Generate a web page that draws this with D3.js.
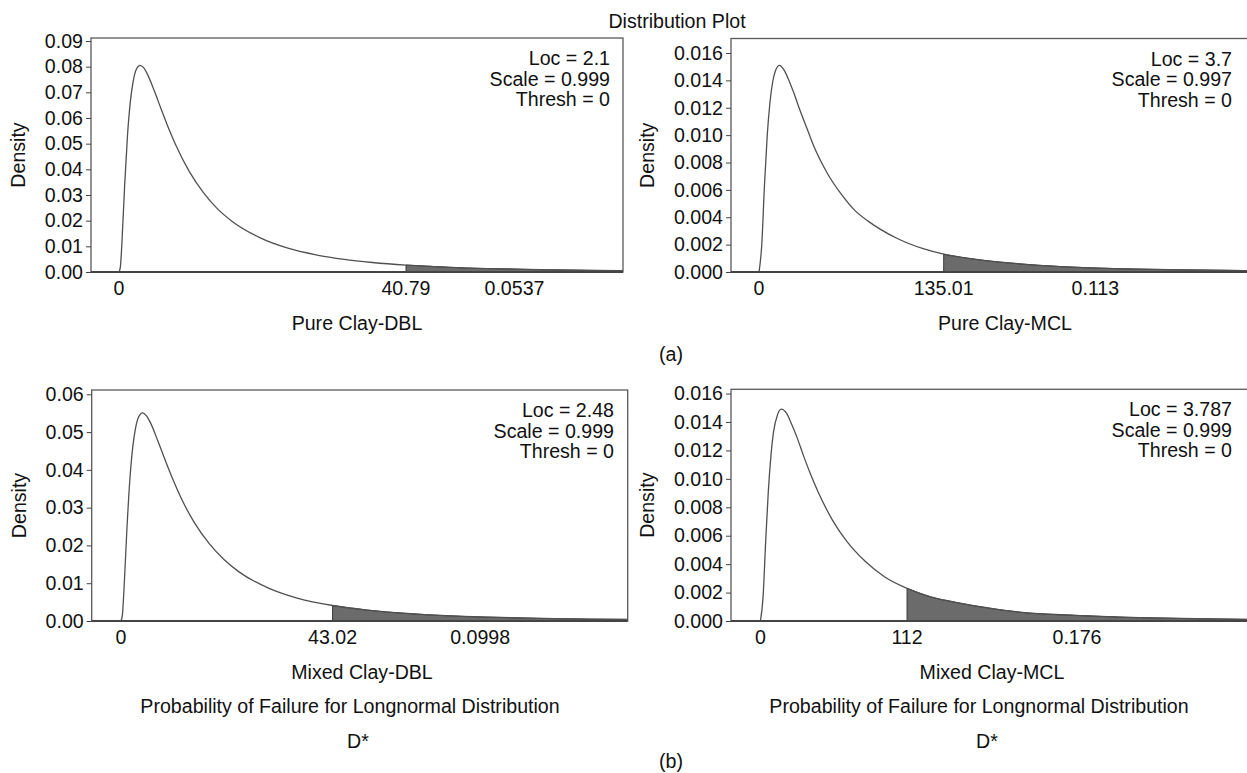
<!DOCTYPE html>
<html>
<head>
<meta charset="utf-8">
<script src="https://cdn.jsdelivr.net/npm/d3@7"></script>
<style>
  body { margin: 0; background: #fff; }
  text { font-family: "Liberation Sans", Arial, sans-serif; fill: #111; }
</style>
</head>
<body>
<svg id="chart" width="1247" height="773"></svg>
<script>
// ---- data ----
const panelNames = ["Pure Clay-DBL", "Pure Clay-MCL", "Mixed Clay-DBL", "Mixed Clay-MCL"];
const locLabels = ["2.1", "3.7", "2.48", "3.787"];
const scaleLabels = ["0.999", "0.997", "0.999", "0.999"];
const threshLabels = ["0", "0", "0", "0"];
const cutoffs = [40.79, 135.01, 43.02, 112];
const cutoffLabels = ["40.79", "135.01", "43.02", "112"];
const tailProbLabels = ["0.0537", "0.113", "0.0998", "0.176"];

// density curves (x, density)
const pureDblX = [0, 0.2, 0.4, 0.8, 1.2, 1.6, 2, 2.5, 3, 3.5, 4, 5, 6, 7, 8, 10, 12, 14, 16, 20, 24, 28, 32, 36, 40.79, 45, 50, 55, 60, 65, 72];
const pureDblDensity = [0, 0.0021, 0.0106, 0.0336, 0.0529, 0.0661, 0.0741, 0.0792, 0.0805, 0.0796, 0.0773, 0.0707, 0.0634, 0.0563, 0.0499, 0.0391, 0.0309, 0.0246, 0.0199, 0.0134, 0.0093, 0.0067, 0.0049, 0.0037, 0.0027, 0.0021, 0.0015, 0.0012, 0.0009, 0.0007, 0.0005];

const pureMclX = [0, 2, 4, 6, 8, 10, 12, 15, 18, 21, 25, 30, 35, 40, 50, 60, 70, 80, 100, 120, 135.01, 160, 190, 220, 260, 300, 358];
const pureMclDensity = [0, 0.0020, 0.0064, 0.0100, 0.0124, 0.0139, 0.0147, 0.0151, 0.0148, 0.0142, 0.0132, 0.0118, 0.0105, 0.0092, 0.0072, 0.0057, 0.0045, 0.0037, 0.0025, 0.0017, 0.0013, 0.0009, 0.0006, 0.0004, 0.00025, 0.00017, 0.0001];

const mixedDblX = [0, 0.3, 0.6, 1.2, 1.8, 2.4, 3, 3.6, 4.4, 5.2, 6, 7.5, 9, 10.5, 12, 15, 18, 21, 24, 30, 36, 43.02, 50, 58, 66, 75, 85, 95, 104];
const mixedDblDensity = [0, 0.0015, 0.0076, 0.0237, 0.037, 0.0459, 0.0512, 0.054, 0.0551, 0.0543, 0.0525, 0.0477, 0.0426, 0.0377, 0.0332, 0.0259, 0.0204, 0.0162, 0.013, 0.0087, 0.006, 0.0041, 0.0029, 0.002, 0.0014, 0.001, 0.0007, 0.0005, 0.0004];

const mixedMclX = [0, 2, 4, 6, 8, 10, 13, 16, 20, 24, 28, 33, 38, 44, 55, 66, 80, 95, 112, 130, 150, 175, 200, 240, 280, 320, 373];
const mixedMclDensity = [0, 0.0017, 0.0056, 0.0091, 0.0116, 0.0133, 0.0145, 0.0149, 0.0146, 0.0138, 0.0129, 0.0116, 0.0104, 0.0091, 0.0071, 0.0056, 0.0042, 0.0031, 0.0023, 0.0017, 0.0013, 0.0009, 0.0006, 0.0004, 0.00026, 0.00018, 0.00011];

// axis ranges and tick labels
const xDomains = [[-3.98, 71.63], [-20.5, 357.5], [-5.93, 103.0], [-22.5, 372.5]];
const yDomains = [[0, 0.09117], [0, 0.01706], [0, 0.06114], [0, 0.0163]];
const yTicksDbl = [0, 0.01, 0.02, 0.03, 0.04, 0.05, 0.06, 0.07, 0.08, 0.09];
const yTicksMcl = [0, 0.002, 0.004, 0.006, 0.008, 0.010, 0.012, 0.014, 0.016];
const yTicksMixedDbl = [0, 0.01, 0.02, 0.03, 0.04, 0.05, 0.06];

const curves = [
  { x: pureDblX, y: pureDblDensity },
  { x: pureMclX, y: pureMclDensity },
  { x: mixedDblX, y: mixedDblDensity },
  { x: mixedMclX, y: mixedMclDensity }
];
const yTicks = [yTicksDbl, yTicksMcl, yTicksMixedDbl, yTicksMcl];
const yFormats = [".2f", ".3f", ".2f", ".3f"];

// ---- layout ----
const layout = [
  { l: 91,   t: 38,    r: 623,   b: 272, densX: 18.5,  labelX: 357,  footX: 357, legendR: 610 },
  { l: 731,  t: 38.5,  r: 1248,  b: 272, densX: 647,   labelX: 1005, footX: 1005, legendR: 1232 },
  { l: 91.7, t: 390,   r: 627.7, b: 621, densX: 19,    labelX: 362,  footX: 350, legendR: 614 },
  { l: 731,  t: 389.3, r: 1248,  b: 621, densX: 647.5, labelX: 992,  footX: 979, legendR: 1232 }
];

const svg = d3.select("#chart");
const fs = 19.6;

svg.append("text")
  .attr("x", 677).attr("y", 28)
  .attr("text-anchor", "middle")
  .style("font-size", fs + "px")
  .text("Distribution Plot");

layout.forEach((p, i) => {
  const x = d3.scaleLinear().domain(xDomains[i]).range([p.l, p.r]);
  const y = d3.scaleLinear().domain(yDomains[i]).range([p.b, p.t]);
  const pts = curves[i].x.map((v, k) => ({ x: v, d: curves[i].y[k] }));
  const g = svg.append("g");

  svg.append("clipPath").attr("id", "clip" + i)
    .append("rect")
    .attr("x", p.l).attr("y", p.t)
    .attr("width", p.r - p.l).attr("height", p.b - p.t);

  // shaded upper tail
  const tail = pts.filter(d => d.x >= cutoffs[i]);
  const area = d3.area()
    .x(d => x(d.x)).y0(y(0)).y1(d => y(d.d))
    .curve(d3.curveMonotoneX);
  g.append("path")
    .attr("clip-path", "url(#clip" + i + ")")
    .attr("d", area(tail))
    .attr("fill", "#6b6b6b")
    .attr("stroke", "#3a3a3a")
    .attr("stroke-width", 1);

  // density curve
  const line = d3.line()
    .x(d => x(d.x)).y(d => y(d.d))
    .curve(d3.curveMonotoneX);
  g.append("path")
    .attr("clip-path", "url(#clip" + i + ")")
    .attr("d", line(pts))
    .attr("fill", "none")
    .attr("stroke", "#505050")
    .attr("stroke-width", 1.3);

  // frame
  g.append("rect")
    .attr("x", p.l).attr("y", p.t)
    .attr("width", p.r - p.l).attr("height", p.b - p.t)
    .attr("fill", "none")
    .attr("stroke", "#5a5a5a")
    .attr("stroke-width", 1.3);
  g.append("line")
    .attr("x1", p.l).attr("x2", p.r)
    .attr("y1", p.b).attr("y2", p.b)
    .attr("stroke", "#444")
    .attr("stroke-width", 2);

  // y axis
  const yAxis = g.append("g")
    .attr("transform", "translate(" + p.l + ",0)")
    .call(d3.axisLeft(y).tickValues(yTicks[i]).tickSize(5).tickPadding(3)
      .tickFormat(d3.format(yFormats[i])));
  yAxis.select(".domain").remove();
  yAxis.selectAll("line").attr("stroke", "#444");
  yAxis.selectAll("text")
    .style("font-size", fs + "px")
    .style("font-family", "'Liberation Sans', Arial, sans-serif")
    .attr("fill", "#111");

  // x labels: 0, cutoff, tail probability
  const xl = [
    { px: x(0), t: "0" },
    { px: x(cutoffs[i]), t: cutoffLabels[i] },
    { px: (x(cutoffs[i]) + Math.min(p.r, 1247)) / 2, t: tailProbLabels[i] }
  ];
  g.selectAll(".xlab").data(xl).enter()
    .append("text")
    .attr("x", d => d.px).attr("y", p.b + 23)
    .attr("text-anchor", "middle")
    .style("font-size", fs + "px")
    .text(d => d.t);

  // y title
  g.append("text")
    .attr("transform", "translate(" + p.densX + "," + (p.t + p.b) / 2 + ") rotate(-90)")
    .attr("dy", "0.35em")
    .attr("text-anchor", "middle")
    .style("font-size", fs + "px")
    .text("Density");

  // legend
  const leg = ["Loc = " + locLabels[i], "Scale = " + scaleLabels[i], "Thresh = " + threshLabels[i]];
  g.selectAll(".leg").data(leg).enter()
    .append("text")
    .attr("x", p.legendR)
    .attr("y", (d, k) => p.t + 27 + k * 20.5)
    .attr("text-anchor", "end")
    .style("font-size", fs + "px")
    .text(d => d);

  // panel subtitle
  g.append("text")
    .attr("x", p.labelX).attr("y", p.b + 58)
    .attr("text-anchor", "middle")
    .style("font-size", fs + "px")
    .text(panelNames[i]);

  if (i >= 2) {
    g.append("text")
      .attr("x", p.footX).attr("y", p.b + 92)
      .attr("text-anchor", "middle")
      .style("font-size", fs + "px")
      .text("Probability of Failure for Longnormal Distribution");
    g.append("text")
      .attr("x", p.footX + 8).attr("y", p.b + 127)
      .attr("text-anchor", "middle")
      .style("font-size", fs + "px")
      .text("D*");
  }
});

svg.append("text").attr("x", 671).attr("y", 361)
  .attr("text-anchor", "middle").style("font-size", fs + "px").text("(a)");
svg.append("text").attr("x", 671).attr("y", 768)
  .attr("text-anchor", "middle").style("font-size", fs + "px").text("(b)");
</script>
</body>
</html>
